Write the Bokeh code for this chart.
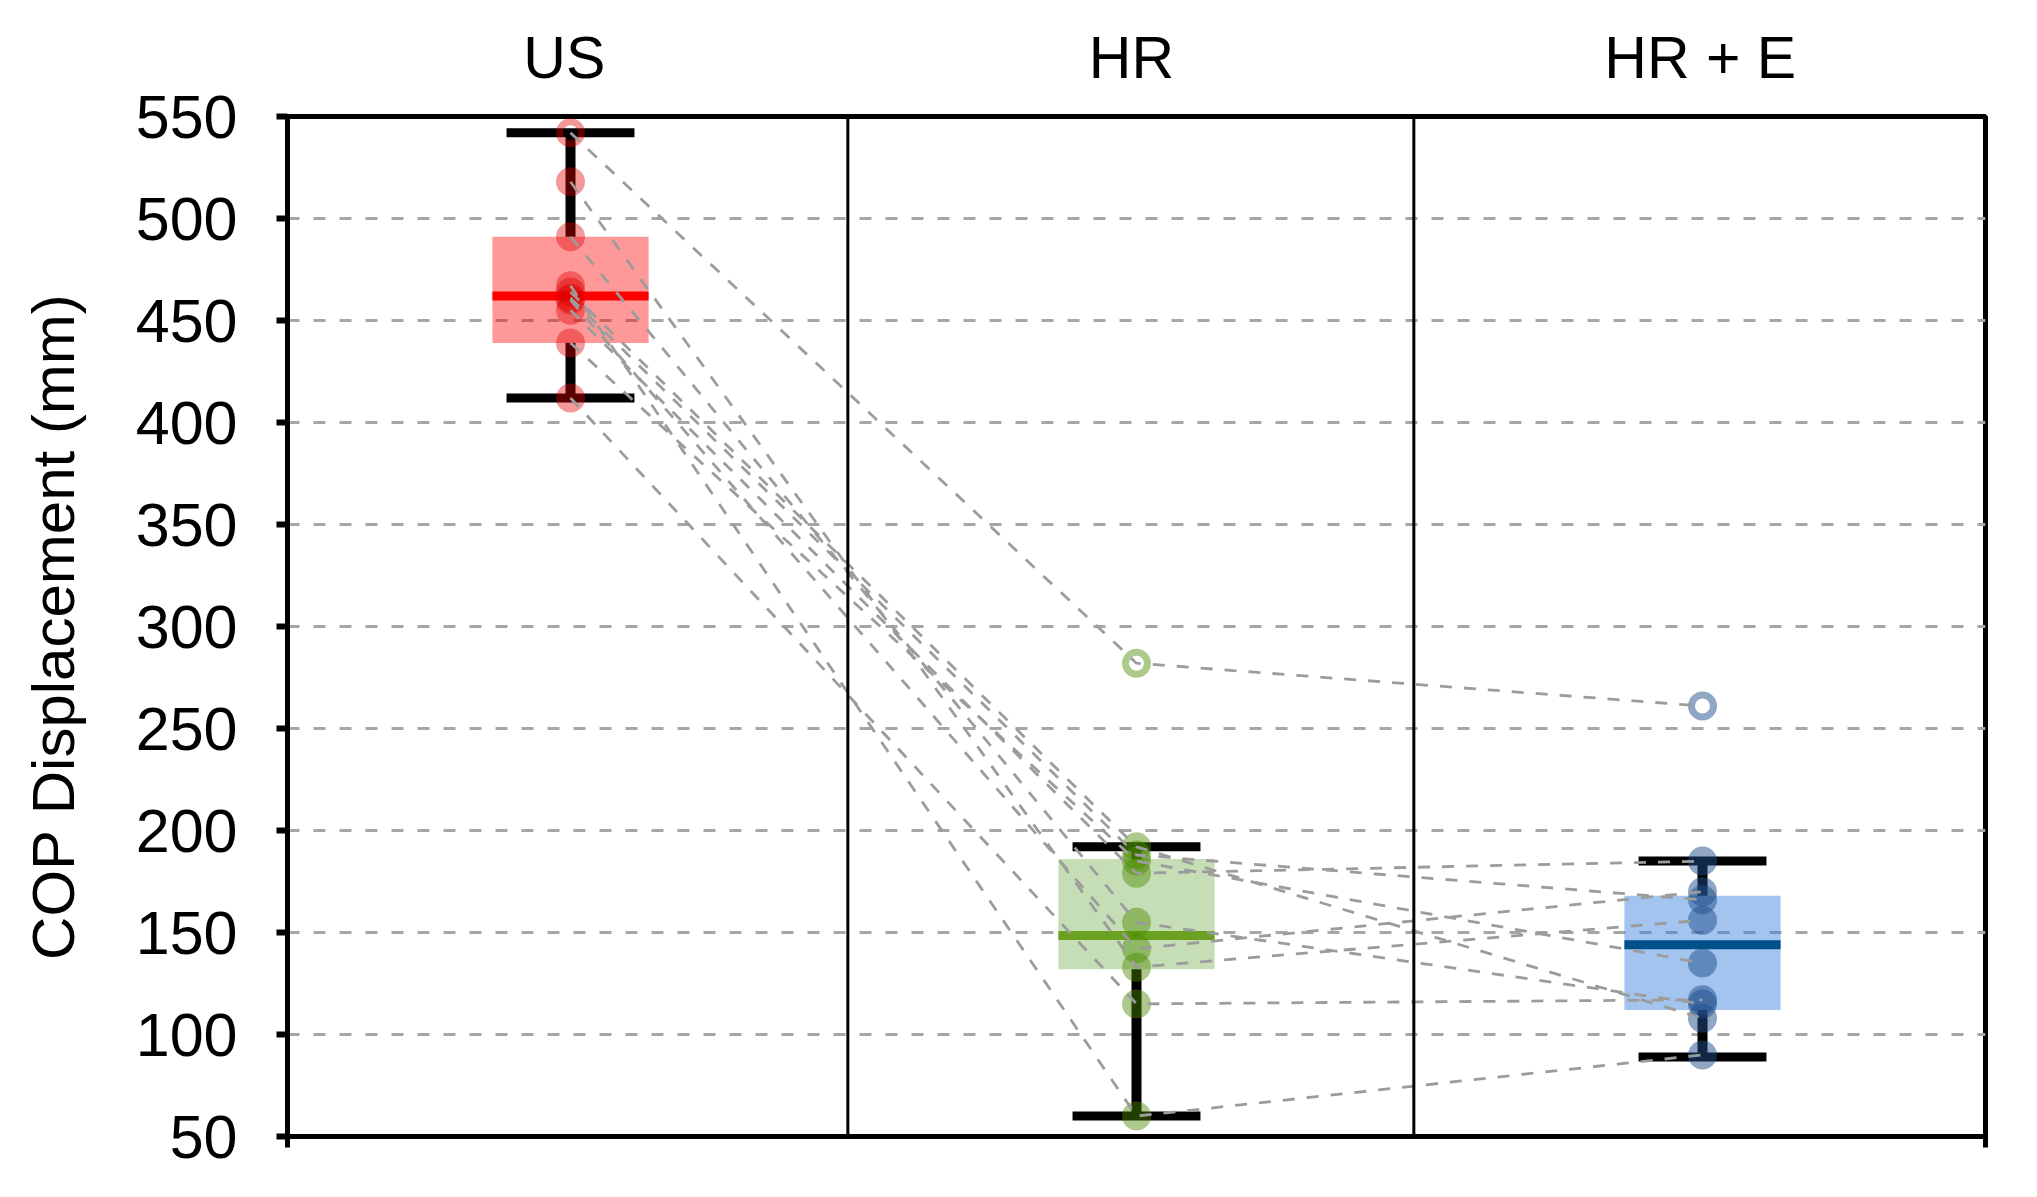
from bokeh.plotting import figure
from bokeh.models import (Range1d, LinearAxis, FixedTicker, CustomJSTickFormatter,
                          Span)
from bokeh.embed import file_html
from bokeh.resources import INLINE

# ---------------- data ----------------
categories = ["US", "HR", "HR + E"]
# paired subject values (same index = same subject)
us_values = [542, 518, 491, 467, 464, 461, 460, 455, 439, 412]
hr_values = [282, 133, 155, 60, 192, 188, 142, 179, 185, 115]
hre_values = [261, 156, 115, 90, 108, 166, 170, 185, 135, 117]
outlier_flags = [True, False, False, False, False, False, False, False, False, False]

# box statistics per category
q1_values = [439, 132, 112]
median_values = [462, 148.5, 144]
q3_values = [491, 186, 168]
whisker_low = [412, 60, 89]
whisker_high = [542, 192, 185]

y_ticks = [50, 100, 150, 200, 250, 300, 350, 400, 450, 500, 550]

# ---------------- style ----------------
FONT = "Liberation Sans"
point_colors = ["#E10000", "#4A8A00", "#1F4E8C"]
point_alpha = [0.4, 0.45, 0.5]
box_colors = ["#FF0000", "#70AD47", "#317CDA"]
box_alpha = [0.4, 0.4, 0.45]
median_colors = ["#FF0000", "#6AA121", "#00518A"]
BOX_W = 0.276
CAP_W = 0.226

W, H = 2029, 1189
p = figure(width=W, height=H, output_backend="svg", toolbar_location=None,
           x_range=Range1d(0, 3), y_range=Range1d(50, 550),
           min_border_left=287, min_border_right=44,
           min_border_top=116, min_border_bottom=53)
p.background_fill_color = "white"
p.border_fill_color = "white"
p.outline_line_color = "black"
p.outline_line_width = 5

# left axis
ya = p.yaxis[0]
ya.ticker = FixedTicker(ticks=y_ticks)
ya.axis_line_width = 5
ya.axis_line_color = "black"
ya.major_tick_line_width = 6
ya.major_tick_line_color = "black"
ya.major_tick_out = 11
ya.major_tick_in = 0
ya.minor_tick_line_color = None
ya.major_label_text_font = FONT
ya.major_label_text_font_size = "61px"
ya.major_label_text_color = "black"
ya.major_label_standoff = 39
ya.axis_label = "COP Displacement (mm)"
ya.axis_label_text_font = FONT
ya.axis_label_text_font_size = "60px"
ya.axis_label_text_font_style = "normal"
ya.axis_label_text_color = "black"
ya.axis_label_standoff = 46

# bottom axis: only end ticks
xa = p.xaxis[0]
xa.ticker = FixedTicker(ticks=[0, 3])
xa.axis_line_width = 5
xa.axis_line_color = "black"
xa.major_tick_line_width = 5
xa.major_tick_line_color = "black"
xa.major_tick_out = 11
xa.major_tick_in = 0
xa.minor_tick_line_color = None
xa.major_label_text_font_size = "0px"
xa.major_label_text_alpha = 0

# top axis with category names
top = LinearAxis(ticker=FixedTicker(ticks=[0.489, 1.491, 2.496]),
                 formatter=CustomJSTickFormatter(args=dict(cats=categories),
                                                 code="return cats[Math.floor(tick)];"))
top.axis_line_color = None
top.major_tick_line_color = None
top.minor_tick_line_color = None
top.major_label_text_font = FONT
top.major_label_text_font_size = "59px"
top.major_label_text_color = "black"
top.major_label_standoff = 20
p.add_layout(top, "above")

# grid
p.xgrid.grid_line_color = None
p.ygrid.grid_line_color = "#A6A6A6"
p.ygrid.grid_line_width = 3
p.ygrid.grid_line_dash = "12 14"

# panel dividers
for loc in [0.99, 1.99]:
    p.add_layout(Span(location=loc, dimension="height", line_color="black", line_width=3))

centers = [i + 0.5 for i in range(len(categories))]

# boxes
for i, c in enumerate(centers):
    p.vbar(x=[c], width=BOX_W, top=[q3_values[i]], bottom=[q1_values[i]],
           fill_color=box_colors[i], fill_alpha=box_alpha[i], line_color=None)
    p.segment(x0=[c - BOX_W / 2], x1=[c + BOX_W / 2], y0=[median_values[i]], y1=[median_values[i]],
              line_color=median_colors[i], line_width=9)
    # whiskers
    p.segment(x0=[c, c], x1=[c, c], y0=[whisker_low[i], q3_values[i]],
              y1=[q1_values[i], whisker_high[i]], line_color="black", line_width=10)
    p.segment(x0=[c - CAP_W / 2, c - CAP_W / 2], x1=[c + CAP_W / 2, c + CAP_W / 2],
              y0=[whisker_low[i], whisker_high[i]], y1=[whisker_low[i], whisker_high[i]],
              line_color="black", line_width=9)

# points
groups = [us_values, hr_values, hre_values]
for i, vals in enumerate(groups):
    filled = [v for v, o in zip(vals, outlier_flags) if not o]
    opened = [v for v, o in zip(vals, outlier_flags) if o]
    p.scatter(x=[centers[i]] * len(filled), y=filled, size=29, marker="circle",
              fill_color=point_colors[i], fill_alpha=point_alpha[i], line_color=None)
    p.scatter(x=[centers[i]] * len(opened), y=opened, size=22, marker="circle",
              fill_color=None, line_color=point_colors[i], line_alpha=point_alpha[i],
              line_width=7)

# paired connecting lines
xs = [centers for _ in us_values]
ys = [[a, b, c] for a, b, c in zip(us_values, hr_values, hre_values)]
p.multi_line(xs=xs, ys=ys, line_color="#9C9C9C", line_width=2.8, line_dash="12 12")

open("out.html", "w").write(file_html(p, INLINE))
